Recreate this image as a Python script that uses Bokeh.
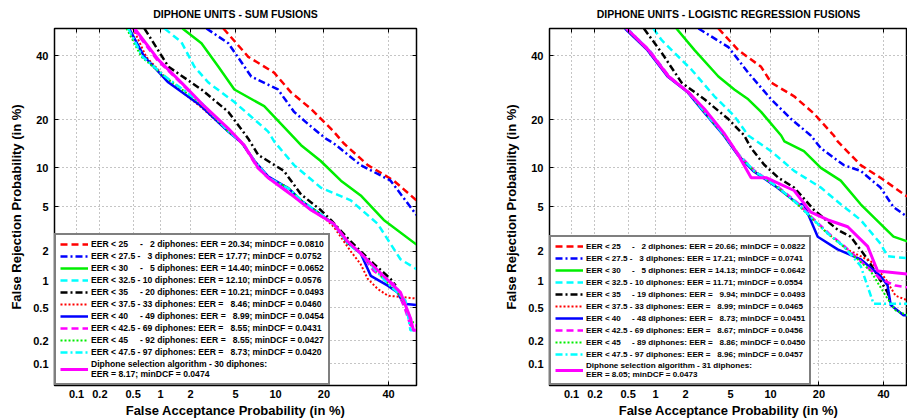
from statistics import NormalDist
from bokeh.plotting import figure
from bokeh.models import (Range1d, FixedTicker, CustomJSTickFormatter, Legend, LegendItem,
                          LinearAxis, CustomLabelingPolicy)
from bokeh.layouts import row
from bokeh.embed import file_html
from bokeh.resources import INLINE

# ---------------- data (FA %, FR %) ----------------
tick_pct = [0.1, 0.2, 0.5, 1, 2, 5, 10, 20, 40]
tick_labels = ["0.1", "0.2", "0.5", "1", "2", "5", "10", "20", "40"]

# SUM fusions
sum_eer25 = [(3.96, 50), (6.31, 39.7), (9.78, 34.2), (12.7, 27.8), (16.9, 22.9), (22.6, 17.1), (25.4, 14.5), (32.9, 10.4), (41.8, 8.04), (50, 5.66)]
sum_eer275 = [(2.81, 50), (4.36, 44.6), (6.65, 32.9), (10.4, 28.7), (13.3, 22.1), (16.9, 18.3), (20.5, 15.5), (22.6, 14.5), (30.6, 10.4), (40.7, 8.04), (50, 4.28)]
sum_eer30 = [(1.67, 50), (2.53, 44.6), (3.59, 36.2), (4.89, 28.7), (8.31, 23.7), (12.2, 17.1), (14.7, 14.1), (19.2, 11.1), (24.6, 8.04), (30.6, 6.20), (38.3, 3.88), (50, 2.32)]
sum_eer325 = [(1.10, 50), (1.63, 45.0), (2.18, 36.2), (2.93, 30.9), (4.89, 24.9), (8.88, 17.1), (9.78, 14.9), (13.3, 10.4), (19.2, 7.13), (27.5, 5.66), (36.2, 3.59), (44.2, 1.67), (50, 1.33)]
sum_eer35 = [(0.67, 50), (1.21, 36.2), (2.53, 28.7), (4.36, 22.1), (6.31, 15.5), (7.51, 12.2), (11.4, 9.47), (14.7, 6.31), (19.2, 4.71), (21.8, 3.88), (27.5, 2.48), (34.9, 1.50), (40.7, 1.05), (42.5, 0.89)]
sum_eer375 = [(0.50, 50), (0.70, 39.7), (1.25, 31.0), (2.5, 23.5), (4.3, 17.3), (5.5, 14.9), (7.0, 11.2), (8.8, 8.5), (12.0, 7.2), (14.5, 5.7), (19.0, 4.4), (22.6, 3.38), (27.5, 2.00), (30.6, 1.49), (32.9, 1.05), (36.2, 0.82), (39.7, 0.69), (50, 0.64)]
sum_eer40 = [(0.45, 50), (0.66, 40.0), (1.2, 31.0), (2.5, 23.8), (4.4, 17.0), (5.6, 14.6), (7.1, 11.0), (8.9, 8.6), (12.3, 7.0), (14.8, 5.6), (19.3, 4.3), (22.7, 3.55), (26.6, 2.4), (30.6, 1.91), (33.9, 1.13), (39.7, 0.89), (43.2, 0.75), (45.3, 0.56), (50, 0.54)]
sum_eer425 = [(0.50, 50), (0.92, 38.6), (1.60, 30.9), (2.65, 23.7), (4.3, 17.8), (5.8, 14.1), (7.4, 10.0), (8.8, 8.5), (12.6, 6.4), (16.8, 4.75), (22.5, 3.6), (26.5, 2.45), (30.5, 1.93), (34.9, 1.27), (42.5, 0.89), (46.0, 0.47), (47.8, 0.31), (50, 0.31)]
sum_eer45 = [(0.42, 50), (0.62, 39.7), (1.10, 32.9), (1.91, 27.2), (2.53, 24.3), (4.36, 17.1), (5.6, 14.7), (7.0, 11.1), (8.9, 8.45), (12.2, 7.1), (14.7, 5.66), (19.2, 4.36), (22.6, 3.59), (26.6, 2.37), (30.6, 1.91), (37.2, 1.13), (44.2, 0.69), (48.6, 0.34), (50, 0.34)]
sum_eer475 = [(0.44, 50), (0.64, 39.7), (1.12, 32.9), (1.95, 27.2), (2.6, 24.3), (4.4, 17.1), (5.7, 14.6), (7.1, 11.0), (9.0, 8.4), (12.3, 7.0), (14.9, 5.6), (19.4, 4.3), (22.8, 3.5), (26.8, 2.35), (30.8, 1.88), (38.9, 1.00), (46.0, 0.61), (47.8, 0.27), (50, 0.27)]
sum_select = [(0.52, 50), (0.95, 38.6), (1.63, 30.9), (2.69, 23.7), (4.36, 17.8), (5.87, 14.1), (7.51, 9.94), (8.88, 8.45), (12.7, 6.31), (16.9, 4.71), (22.6, 3.59), (26.6, 2.48), (30.6, 1.91), (37.2, 1.21), (44.2, 0.75), (47.8, 0.38), (48.9, 0.27), (50, 0.27)]

# Logistic regression fusions
lr_eer25 = [(3.96, 50), (5.77, 42.1), (8.58, 36.2), (10.1, 30.9), (14.3, 26.6), (18.8, 21.6), (24.0, 16.2), (25.1, 14.9), (32.2, 10.4), (38.9, 8.45), (47.8, 6.20), (50, 5.9)]
lr_eer275 = [(2.64, 50), (4.80, 43.2), (6.89, 34.2), (10.1, 25.7), (13.7, 20.2), (18.0, 16.2), (20.5, 13.5), (26.9, 10.4), (32.2, 9.47), (38.9, 7.13), (43.5, 4.98), (48.6, 4.11), (50, 3.9)]
lr_eer30 = [(1.63, 50), (2.43, 42.1), (3.96, 32.9), (5.36, 28.7), (6.89, 25.7), (8.58, 22.1), (11.8, 16.2), (12.4, 14.9), (16.4, 12.9), (20.5, 9.94), (26.0, 8.04), (32.2, 5.26), (38.9, 3.59), (43.5, 2.75), (48.6, 2.48), (50, 2.4)]
lr_eer325 = [(0.95, 50), (1.16, 45.7), (2.28, 35.2), (3.66, 26.6), (5.36, 21.0), (6.89, 16.2), (10.1, 12.9), (14.3, 9.47), (20.5, 7.13), (26.0, 5.26), (32.2, 3.88), (38.9, 2.37), (41.4, 1.79), (48.6, 1.71), (50, 1.70)]
lr_eer35 = [(0.75, 50), (1.16, 41.1), (1.83, 30.9), (2.99, 25.7), (4.80, 20.2), (6.42, 16.2), (7.25, 13.5), (9.0, 10.5), (11.3, 8.45), (14.3, 7.13), (18.8, 4.71), (25.1, 3.18), (29.0, 2.75), (34.5, 1.67), (41.4, 0.75), (42.5, 0.54)]
lr_eer375 = [(0.48, 50), (0.84, 42.1), (1.36, 32.9), (2.13, 27.8), (2.99, 22.1), (4.45, 16.2), (5.77, 12.2), (7.64, 9.47), (11.3, 7.13), (15.1, 5.26), (18.0, 4.11), (22.4, 2.93), (26.9, 2.23), (29.0, 2.0), (35.5, 1.60), (40.7, 1.05), (44.2, 0.69), (48.6, 0.61), (50, 0.6)]
lr_eer40 = [(0.46, 50), (0.82, 42.1), (1.33, 32.9), (2.10, 27.8), (2.95, 22.1), (4.4, 16.2), (5.7, 12.2), (7.5, 9.47), (11.1, 7.13), (15.1, 5.3), (16.4, 5.26), (19.7, 2.75), (25.1, 2.09), (32.2, 1.67), (38.9, 1.13), (41.4, 0.89), (42.5, 0.54), (47.1, 0.41), (50, 0.41)]
lr_eer425 = [(0.48, 50), (0.86, 42.1), (1.38, 32.9), (2.15, 27.8), (3.02, 22.1), (4.5, 16.2), (5.85, 12.2), (7.7, 9.47), (11.4, 7.13), (15.3, 5.3), (18.2, 4.1), (22.6, 2.95), (27.0, 2.25), (32.2, 1.60), (38.9, 1.05), (44.2, 0.89), (48.6, 0.85), (50, 0.85)]
lr_eer45 = [(0.47, 50), (0.83, 42.1), (1.35, 32.9), (2.12, 27.8), (2.98, 22.1), (4.42, 16.2), (5.75, 12.2), (7.6, 9.47), (11.2, 7.13), (15.0, 5.26), (17.9, 4.11), (22.3, 2.93), (26.8, 2.23), (35.5, 1.27), (40.7, 0.69), (44.2, 0.47), (48.6, 0.41), (50, 0.41)]
lr_eer475 = [(0.49, 50), (0.85, 42.1), (1.37, 32.9), (2.14, 27.8), (3.0, 22.1), (4.47, 16.2), (5.8, 12.2), (7.65, 9.47), (11.3, 7.13), (15.1, 5.26), (18.0, 4.11), (22.4, 2.93), (26.9, 2.23), (32.2, 1.43), (36.5, 0.56), (48.6, 0.56), (50, 0.56)]
lr_select = [(0.48, 50), (0.84, 42.1), (1.36, 32.9), (2.13, 27.8), (2.99, 22.9), (4.45, 16.6), (5.77, 12.2), (7.25, 8.45), (9.33, 8.45), (11.8, 7.51), (14.3, 6.77), (18.0, 4.53), (22.4, 3.88), (28.1, 3.38), (34.5, 2.23), (37.9, 1.27), (48.6, 1.18), (50, 1.18)]

NB = "\u00a0"
sum_labels = [
    "EER < 25" + NB * 5 + "-" + NB * 3 + "2 diphones: EER = 20.34; minDCF = 0.0810",
    "EER < 27.5 -" + NB * 3 + "3 diphones: EER = 17.77; minDCF = 0.0752",
    "EER < 30" + NB * 5 + "-" + NB * 3 + "5 diphones: EER = 14.40; minDCF = 0.0652",
    "EER < 32.5 - 10 diphones: EER = 12.10; minDCF = 0.0576",
    "EER < 35" + NB * 5 + "- 20 diphones: EER = 10.21; minDCF = 0.0493",
    "EER < 37.5 - 33 diphones: EER =" + NB * 3 + "8.46; minDCF = 0.0460",
    "EER < 40" + NB * 5 + "- 49 diphones: EER =" + NB * 3 + "8.99; minDCF = 0.0454",
    "EER < 42.5 - 69 diphones: EER =" + NB * 3 + "8.55; minDCF = 0.0431",
    "EER < 45" + NB * 5 + "- 92 diphones: EER =" + NB * 3 + "8.55; minDCF = 0.0427",
    "EER < 47.5 - 97 diphones: EER =" + NB * 3 + "8.73; minDCF = 0.0420",
    "Diphone selection algorithm - 30 diphones:\nEER = 8.17; minDCF = 0.0474",
]
lr_labels = [
    "EER < 25" + NB * 5 + "-" + NB * 3 + "2 diphones: EER = 20.66; minDCF = 0.0822",
    "EER < 27.5 -" + NB * 3 + "3 diphones: EER = 17.21; minDCF = 0.0741",
    "EER < 30" + NB * 5 + "-" + NB * 3 + "5 diphones: EER = 14.13; minDCF = 0.0642",
    "EER < 32.5 - 10 diphones: EER = 11.71; minDCF = 0.0554",
    "EER < 35" + NB * 5 + "- 19 diphones: EER =" + NB * 3 + "9.94; minDCF = 0.0493",
    "EER < 37.5 - 33 diphones: EER =" + NB * 3 + "8.99; minDCF = 0.0465",
    "EER < 40" + NB * 5 + "- 48 diphones: EER =" + NB * 3 + "8.73; minDCF = 0.0451",
    "EER < 42.5 - 69 diphones: EER =" + NB * 3 + "8.67; minDCF = 0.0456",
    "EER < 45" + NB * 5 + "- 89 diphones: EER =" + NB * 3 + "8.86; minDCF = 0.0450",
    "EER < 47.5 - 97 diphones: EER =" + NB * 3 + "8.96; minDCF = 0.0457",
    "Diphone selection algorithm - 31 diphones:\nEER = 8.05; minDCF = 0.0473",
]

sum_curves = [sum_eer25, sum_eer275, sum_eer30, sum_eer325, sum_eer35, sum_eer375,
              sum_eer40, sum_eer425, sum_eer45, sum_eer475, sum_select]
lr_curves = [lr_eer25, lr_eer275, lr_eer30, lr_eer325, lr_eer35, lr_eer375,
             lr_eer40, lr_eer425, lr_eer45, lr_eer475, lr_select]

# ---------------- styles ----------------
styles = [
    ("#FF0000", "7 4", 2.5),
    ("#0000FF", "7 3 2 3", 2.5),
    ("#00EE00", "solid", 2.5),
    ("#00FFFF", "7 4", 2.5),
    ("#000000", "7 3 2 3", 2.5),
    ("#FF0000", "2 2", 2.0),
    ("#0000FF", "solid", 2.5),
    ("#FF00FF", "7 4", 2.5),
    ("#00EE00", "2 2", 2.0),
    ("#00FFFF", "7 3 2 3", 2.5),
    ("#FF00FF", "solid", 3.0),
]

ND = NormalDist()
LO = ND.inv_cdf(0.0005)
FONT = "Liberation Sans"


def probit(vals):
    return [ND.inv_cdf(v / 100.0) for v in vals]


TICKS = probit(tick_pct)
fmt_code = """
let best = 0, bd = 1e9;
for (let i = 0; i < t.length; i++) { const d = Math.abs(t[i] - tick); if (d < bd) { bd = d; best = i; } }
return l[best];
"""
hide_all_code = """
for (const i of [...indices]) { indices.unset(i) }
return indices
"""


def tick_only_axis():
    ax = LinearAxis(ticker=FixedTicker(ticks=TICKS))
    ax.major_label_policy = CustomLabelingPolicy(code=hide_all_code)
    ax.major_label_text_font_size = "8px"
    ax.major_label_standoff = 0
    ax.major_tick_in = 4
    ax.major_tick_out = 0
    ax.minor_tick_line_color = None
    ax.axis_line_color = "black"
    ax.major_tick_line_color = "black"
    return ax


def make_fig(title, curves, labels, width, min_left, min_right, x_end, leg_font, right_axis):
    p = figure(width=width, height=420, output_backend="svg", toolbar_location=None,
               x_range=Range1d(LO, x_end), y_range=Range1d(LO, 0),
               min_border_left=min_left, min_border_right=min_right,
               min_border_top=28, min_border_bottom=31,
               x_axis_label="False Acceptance Probability (in %)",
               y_axis_label="False Rejection Probability (in %)")
    p.title.text = title
    p.title.align = "center"
    p.title.text_font = FONT
    p.title.text_font_size = "10.5px"
    p.title.text_font_style = "bold"
    p.title.text_color = "black"
    p.title.standoff = 2

    for ax in (p.xaxis[0], p.yaxis[0]):
        ax.ticker = FixedTicker(ticks=TICKS)
        ax.formatter = CustomJSTickFormatter(args=dict(t=TICKS, l=tick_labels), code=fmt_code)
        ax.major_label_text_font = FONT
        ax.major_label_text_font_style = "bold"
        ax.major_label_text_font_size = "11px"
        ax.major_label_text_color = "black"
        ax.axis_label_text_font = FONT
        ax.axis_label_text_font_style = "bold"
        ax.axis_label_text_font_size = "13px"
        ax.axis_label_text_color = "black"
        ax.major_tick_in = 4
        ax.major_tick_out = 0
        ax.minor_tick_line_color = None
        ax.axis_line_color = "black"
        ax.major_tick_line_color = "black"
    p.xaxis.major_label_standoff = 4
    p.xaxis.axis_label_standoff = 2
    p.yaxis.major_label_standoff = 6
    p.yaxis.axis_label_standoff = 6

    p.add_layout(tick_only_axis(), "above")
    if right_axis:
        p.add_layout(tick_only_axis(), "right")

    for g in (p.xgrid[0], p.ygrid[0]):
        g.grid_line_color = "#8a8a8a"
        g.grid_line_dash = "1 3"
        g.grid_line_width = 1
    p.outline_line_color = "black"
    p.outline_line_width = 1.5

    items = []
    for pts, (col, dash, lw), lab in zip(curves, styles, labels):
        xs = probit([a for a, b in pts])
        ys = probit([b for a, b in pts])
        r = p.line(xs, ys, line_color=col, line_dash=dash, line_width=lw)
        items.append(LegendItem(label=lab, renderers=[r]))

    leg = Legend(items=items, location="bottom_left", margin=0, padding=4, spacing=2,
                 border_line_color="black", border_line_width=2,
                 label_text_font=FONT, label_text_font_style="bold",
                 label_text_font_size=leg_font, label_text_color="black",
                 label_height=10, glyph_height=10, glyph_width=28, label_standoff=3,
                 background_fill_alpha=1.0)
    p.add_layout(leg)
    return p


left = make_fig("DIPHONE UNITS - SUM FUSIONS", sum_curves, sum_labels,
                460, 54, 44, 0.0, "8.6px", True)
x_end_right = LO + 358 * (-LO) / 362.0
right = make_fig("DIPHONE UNITS - LOGISTIC REGRESSION FUSIONS", lr_curves, lr_labels,
                 447, 89, 0, x_end_right, "8.1px", False)

layout = row(left, right)
open("out.html", "w").write(file_html(layout, INLINE))
